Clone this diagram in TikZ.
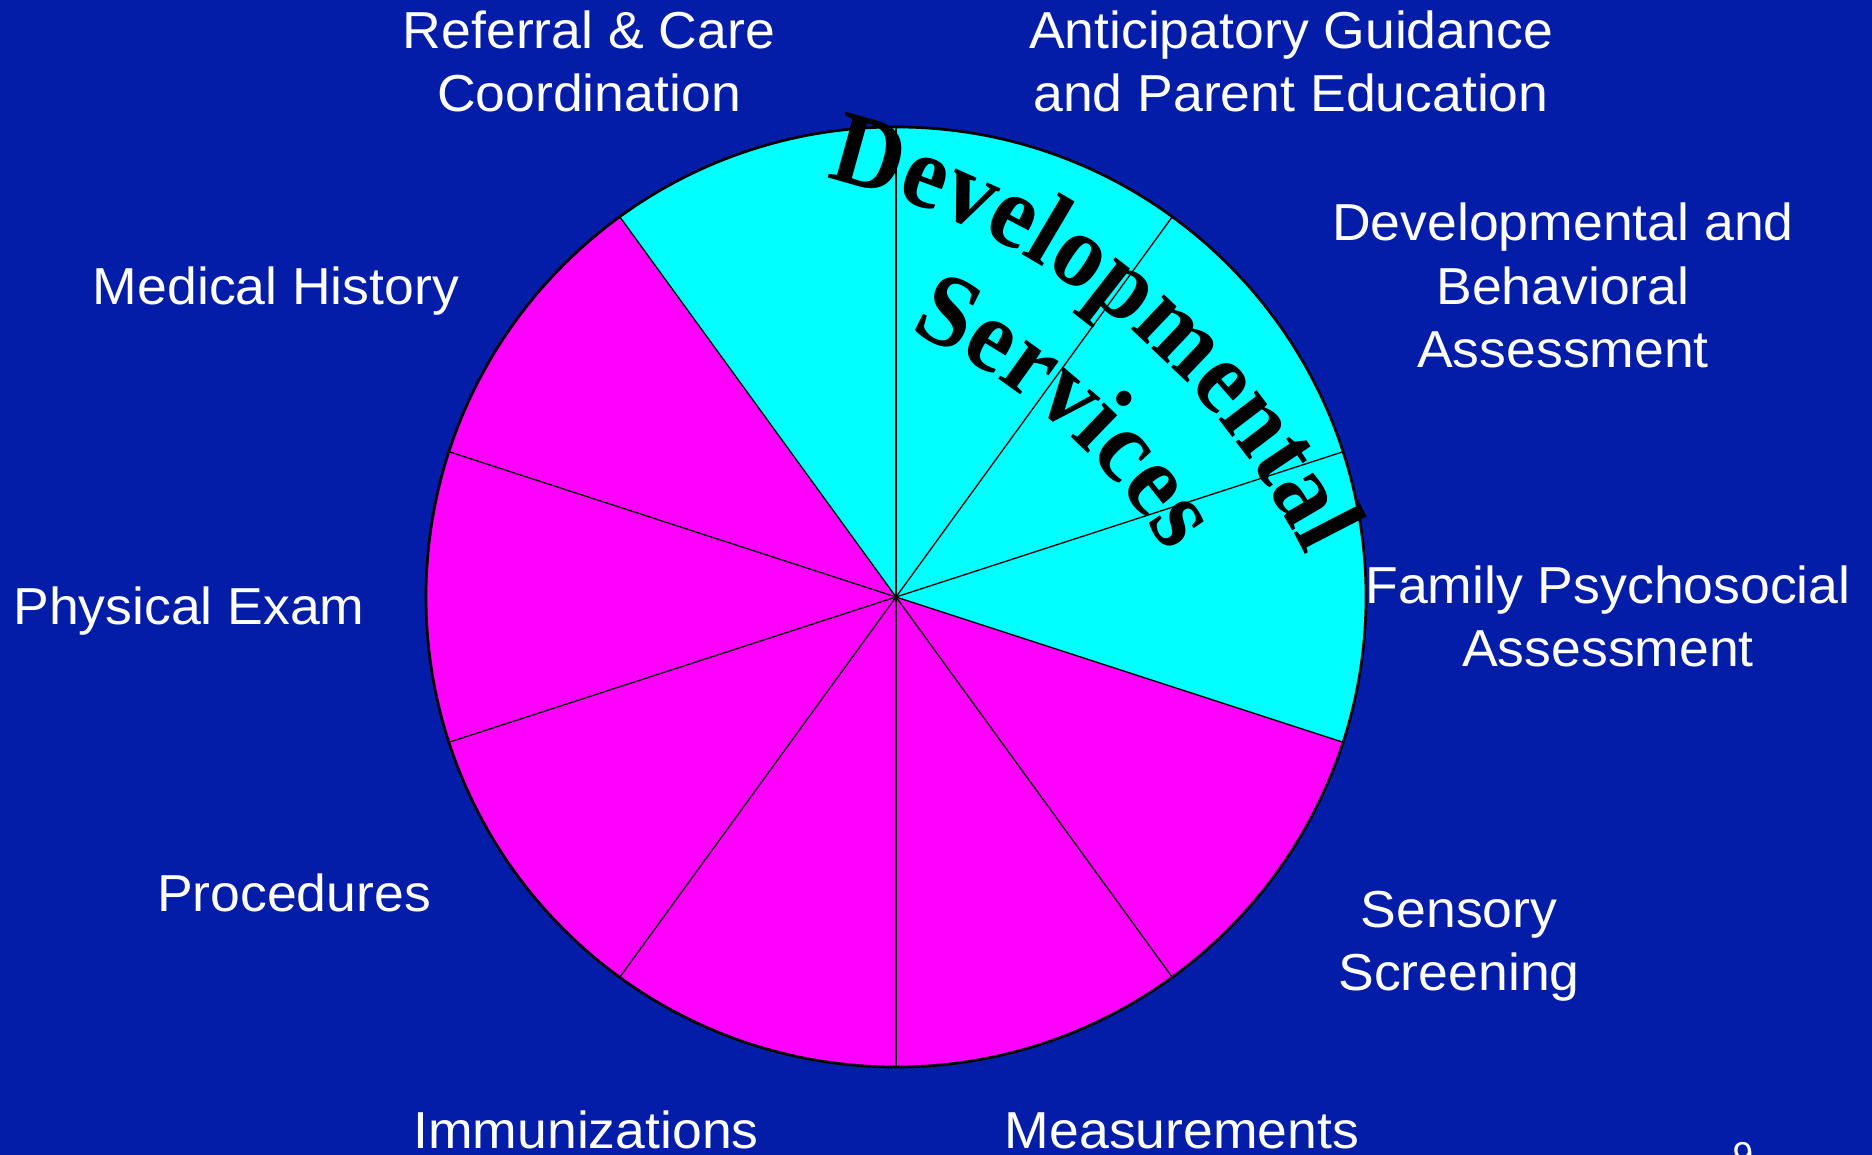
\documentclass[tikz,border=0pt]{standalone}
\usepackage{fontspec}
\setmainfont{Liberation Sans}[FakeStretch=1.03]
\newfontfamily\wafont{Liberation Serif}[FakeStretch=0.95]
\usetikzlibrary{decorations.text}
\definecolor{bgblue}{RGB}{3,29,168}
\definecolor{pcyan}{RGB}{0,255,255}
\definecolor{pmag}{RGB}{255,0,255}
\begin{document}
\begin{tikzpicture}[x=0.5pt,y=0.5pt,
  lab/.style={text=white, font=\fontsize{26}{31.75}\selectfont, align=center, inner sep=0pt, anchor=base},
  radline/.style={draw=black, line width=0.65pt},
  rim/.style={draw=black, line width=1.35pt}]
\fill[bgblue] (0,0) rectangle (1872,1155);
\useasboundingbox (0,0) rectangle (1872,1155);
\clip (0,0) rectangle (1872,1155);
\coordinate (O) at (896,558);
\coordinate (T) at (673,288);
\fill[pmag] (O) -- ++(126:470) arc[start angle=126,end angle=342,radius=470] -- cycle;
\fill[pcyan] (O) -- ++(-18:470) arc[start angle=-18,end angle=126,radius=470] -- cycle;
\foreach \a in {90,54,18,-18,-54,-90,-126,-162,-198,-234}
  \draw[radline] (O) -- ++(\a:470);
\draw[rim] (O) circle[radius=470];
\path[decorate, decoration={text along path, text align=center,
  text={|\wafont\bfseries\fontsize{52}{52}\selectfont|Developmental}}]
  (T) ++(100:705) arc[start angle=100, end angle=3.6, radius=705];
\path[decorate, decoration={text along path, text align=center,
  text={|\wafont\bfseries\fontsize{52}{52}\selectfont|Services}}]
  (T) ++(94.3:586) arc[start angle=94.3, end angle=4.3, radius=586];
\node[lab] (ref) at (589,1043) {Referral \& Care\\Coordination};
\node[lab] (ant) at (1291,1043) {Anticipatory Guidance\\and Parent Education};
\node[lab] (dev) at (1563,787) {Developmental and\\Behavioral\\Assessment};
\node[lab] (fam) at (1608,488) {Family Psychosocial\\Assessment};
\node[lab] (sen) at (1459,164) {Sensory\\Screening};
\node[lab] (mea) at (1182,6) {Measurements};
\node[lab] (imm) at (586,6) {Immunizations};
\node[lab] (pro) at (294,243) {Procedures};
\node[lab] (phy) at (189,530) {Physical Exam};
\node[lab] (med) at (276,850) {Medical History};
\node[lab, font=\fontsize{18}{18}\selectfont] (num) at (1743,-13) {9};
\end{tikzpicture}
\end{document}
